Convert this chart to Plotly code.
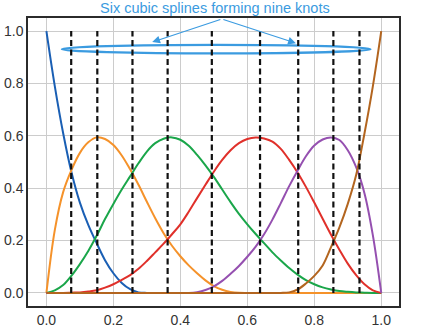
import plotly.graph_objects as go

x_grid = [round(i * 0.025, 3) for i in range(41)]

blue_y = [1.0, 0.79, 0.61, 0.46, 0.345, 0.26, 0.19, 0.125, 0.075, 0.038, 0.014, 0.002,
          0, 0, 0, 0, 0, 0, 0, 0, 0, 0, 0, 0, 0, 0, 0, 0, 0, 0, 0, 0, 0, 0, 0, 0, 0, 0, 0, 0, 0]

orange_y = [0.0, 0.24, 0.385, 0.47, 0.535, 0.575, 0.594, 0.588, 0.565, 0.525, 0.472, 0.413,
            0.348, 0.285, 0.228, 0.18, 0.14, 0.105, 0.075, 0.048, 0.026, 0.012, 0.004, 0.0005,
            0, 0, 0, 0, 0, 0, 0, 0, 0, 0, 0, 0, 0, 0, 0, 0, 0]

green_y = [0.0, 0.01, 0.03, 0.066, 0.11, 0.16, 0.218, 0.282, 0.34, 0.395, 0.445, 0.495,
           0.54, 0.572, 0.589, 0.594, 0.585, 0.562, 0.527, 0.487, 0.443, 0.395, 0.347, 0.302,
           0.262, 0.225, 0.19, 0.155, 0.124, 0.095, 0.07, 0.049, 0.033, 0.021, 0.013, 0.007,
           0.004, 0.002, 0.001, 0.0, 0.0]

red_y = [0.0, 0.0, 0.0, 0.001, 0.002, 0.005, 0.01, 0.02, 0.033, 0.05, 0.068, 0.092,
         0.122, 0.155, 0.188, 0.224, 0.262, 0.31, 0.362, 0.413, 0.463, 0.508, 0.545, 0.572,
         0.588, 0.594, 0.59, 0.578, 0.55, 0.508, 0.46, 0.405, 0.345, 0.283, 0.222, 0.165,
         0.112, 0.068, 0.033, 0.01, 0.0]

purple_y = [0, 0, 0, 0, 0, 0, 0, 0, 0, 0, 0, 0, 0, 0, 0, 0, 0, 0.0, 0.003, 0.011, 0.025,
            0.046, 0.073, 0.103, 0.138, 0.177, 0.224, 0.28, 0.343, 0.408, 0.467, 0.522, 0.563,
            0.586, 0.594, 0.584, 0.545, 0.48, 0.38, 0.22, 0.0]

brown_y = [0, 0, 0, 0, 0, 0, 0, 0, 0, 0, 0, 0, 0, 0, 0, 0, 0, 0, 0, 0, 0, 0, 0, 0, 0, 0, 0, 0,
           0.0, 0.002, 0.013, 0.036, 0.065, 0.105, 0.175, 0.25, 0.34, 0.45, 0.61, 0.79, 1.0]

knots = [0.074, 0.152, 0.257, 0.362, 0.494, 0.638, 0.752, 0.857, 0.935]

x_ticks = [0.0, 0.2, 0.4, 0.6, 0.8, 1.0]
y_ticks = [0.0, 0.2, 0.4, 0.6, 0.8, 1.0]

title_text = "Six cubic splines forming nine knots"

# ---- styling ----
series = [
    (blue_y, "#1a5fb4"),
    (orange_y, "#f5922a"),
    (green_y, "#1aa64a"),
    (red_y, "#e0302a"),
    (purple_y, "#9550b0"),
    (brown_y, "#b3651f"),
]
accent = "#3b9be0"
font_family = "Liberation Sans, Arial, sans-serif"

fig = go.Figure()
for ys, col in series:
    fig.add_trace(go.Scatter(x=x_grid, y=ys, mode="lines",
                             line=dict(color=col, width=2, shape="spline", smoothing=1.0),
                             showlegend=False, hoverinfo="skip"))

kx, ky = [], []
for k in knots:
    kx += [k, k, None]
    ky += [0.0, 1.0, None]
fig.add_trace(go.Scatter(x=kx, y=ky, mode="lines",
                         line=dict(color="#111111", width=2.2, dash="6px,3.5px"),
                         showlegend=False, hoverinfo="skip"))

# ellipse around the knot tops
fig.add_shape(type="circle", xref="x", yref="y", x0=0.046, x1=0.968, y0=0.915, y1=0.947,
              line=dict(color=accent, width=2.2), layer="between")

# label and arrows
fig.add_annotation(xref="paper", yref="paper", x=0.504, y=1.036, text=title_text, showarrow=False,
                   font=dict(family=font_family, size=14.5, color=accent),
                   xanchor="center", yanchor="middle")
arrow_start = (0.524, 1.046)
for tx, ty in [(0.316, 0.958), (0.745, 0.954)]:
    fig.add_annotation(x=tx, y=ty, ax=arrow_start[0], ay=arrow_start[1], xref="x", yref="y",
                       axref="x", ayref="y", text="", showarrow=True, arrowhead=2, arrowsize=1.3,
                       arrowwidth=1.2, arrowcolor=accent)

axis_common = dict(showgrid=True, gridcolor="#cccccc", gridwidth=1.4, zeroline=False,
                   showline=True, linecolor="#2b2b2b", linewidth=1.5, mirror=True,
                   ticks="", automargin=False,
                   tickfont=dict(family=font_family, size=14, color="#333333"),
                   tickformat=".1f")
fig.update_xaxes(range=[-0.055, 1.053], tickvals=x_ticks, **axis_common)
fig.update_yaxes(range=[-0.05, 1.05], tickvals=y_ticks, **axis_common)

fig.update_layout(width=431, height=332, margin=dict(l=28, r=32, t=18, b=26),
                  plot_bgcolor="white", paper_bgcolor="white")

fig.write_html("out.html")
